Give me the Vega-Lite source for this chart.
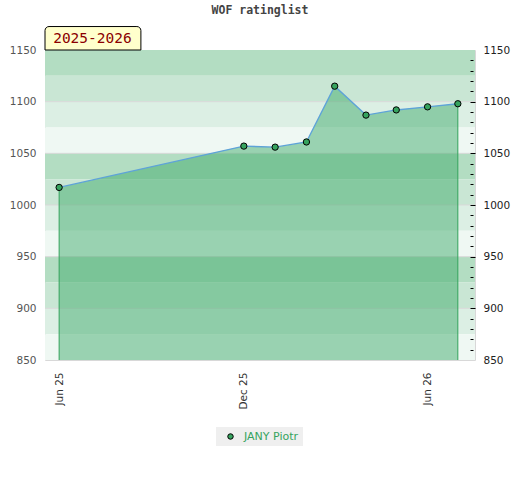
{
  "$schema": "https://vega.github.io/schema/vega-lite/v6.json",
  "width": 430,
  "height": 310,
  "autosize": {"type": "none"},
  "padding": {"left": 45, "top": 50, "right": 45, "bottom": 120},
  "background": "white",
  "title": {
    "text": "WOF ratinglist",
    "font": "DejaVu Sans Mono",
    "fontWeight": "bold",
    "fontSize": 11.5,
    "color": "#444444",
    "anchor": "middle",
    "frame": "group",
    "offset": 10
  },
  "datasets": {
    "bands": [
      {"lo": 1125, "hi": 1150, "shade": 1},
      {"lo": 1100, "hi": 1125, "shade": 2},
      {"lo": 1075, "hi": 1100, "shade": 3},
      {"lo": 1050, "hi": 1075, "shade": 4},
      {"lo": 1025, "hi": 1050, "shade": 1},
      {"lo": 1000, "hi": 1025, "shade": 2},
      {"lo": 975, "hi": 1000, "shade": 3},
      {"lo": 950, "hi": 975, "shade": 4},
      {"lo": 925, "hi": 950, "shade": 1},
      {"lo": 900, "hi": 925, "shade": 2},
      {"lo": 875, "hi": 900, "shade": 3},
      {"lo": 850, "hi": 875, "shade": 4}
    ],
    "ratings": [
      {"date": "2025-06-01", "rating": 1017, "player": "JANY Piotr"},
      {"date": "2025-12-01", "rating": 1057, "player": "JANY Piotr"},
      {"date": "2026-01-01", "rating": 1056, "player": "JANY Piotr"},
      {"date": "2026-02-01", "rating": 1061, "player": "JANY Piotr"},
      {"date": "2026-03-01", "rating": 1115, "player": "JANY Piotr"},
      {"date": "2026-04-01", "rating": 1087, "player": "JANY Piotr"},
      {"date": "2026-05-01", "rating": 1092, "player": "JANY Piotr"},
      {"date": "2026-06-01", "rating": 1095, "player": "JANY Piotr"},
      {"date": "2026-07-01", "rating": 1098, "player": "JANY Piotr"}
    ]
  },
  "layer": [
    {
      "data": {"name": "bands"},
      "mark": "rect",
      "encoding": {
        "y": {
          "field": "lo",
          "type": "quantitative",
          "scale": {"domain": [850, 1150], "zero": false, "nice": false},
          "axis": {
            "orient": "left",
            "title": null,
            "values": [850, 900, 950, 1000, 1050, 1100, 1150],
            "format": "d",
            "ticks": false,
            "domain": false,
            "grid": false,
            "labelColor": "#555555",
            "labelFontSize": 10.5,
            "labelPadding": 9
          }
        },
        "y2": {"field": "hi"},
        "color": {
          "field": "shade",
          "type": "ordinal",
          "scale": {"domain": [1, 2, 3, 4], "range": ["#b3ddc2", "#c9e6d4", "#dcefe4", "#eff8f3"]},
          "legend": null
        }
      }
    },
    {
      "data": {"name": "bands"},
      "transform": [{"filter": "datum.lo % 50 == 0 && datum.lo > 850"}],
      "mark": {"type": "rule", "color": "#d9d9d9", "strokeWidth": 1},
      "encoding": {
        "y": {"field": "lo", "type": "quantitative", "axis": null}
      }
    },
    {
      "data": {"name": "ratings"},
      "mark": {"type": "area", "color": "#3aa765", "opacity": 0.47},
      "encoding": {
        "x": {
          "field": "date",
          "type": "temporal",
          "scale": {
            "type": "utc",
            "domain": [
              {"year": 2025, "month": 5, "date": 18, "utc": true},
              {"year": 2026, "month": 7, "date": 18, "utc": true}
            ]
          },
          "axis": {
            "title": null,
            "values": [
              {"year": 2025, "month": 6, "date": 1, "utc": true},
              {"year": 2025, "month": 12, "date": 1, "utc": true},
              {"year": 2026, "month": 6, "date": 1, "utc": true}
            ],
            "labelExpr": "utcFormat(datum.value, '%b %y')",
            "labelAngle": 270,
            "labelColor": "#333333",
            "labelFontSize": 10.5,
            "labelPadding": 12,
            "labelFlush": false,
            "ticks": false,
            "domain": false,
            "grid": false
          }
        },
        "y": {"field": "rating", "type": "quantitative", "axis": null},
        "y2": {"datum": 850}
      }
    },
    {
      "data": {"name": "ratings"},
      "transform": [{"filter": "(utcyear(datum.date) == 2025 && utcmonth(datum.date) == 5) || (utcyear(datum.date) == 2026 && utcmonth(datum.date) == 6)"}],
      "mark": {"type": "rule", "color": "#33a35c", "strokeWidth": 1},
      "encoding": {
        "x": {"field": "date", "type": "temporal", "title": null},
        "y": {"field": "rating", "type": "quantitative", "axis": null},
        "y2": {"datum": 850}
      }
    },
    {
      "data": {"name": "ratings"},
      "mark": {"type": "line", "color": "#5ea3d8", "strokeWidth": 1.4},
      "encoding": {
        "x": {"field": "date", "type": "temporal", "title": null},
        "y": {"field": "rating", "type": "quantitative", "axis": null}
      }
    },
    {
      "data": {"name": "ratings"},
      "mark": {"type": "point", "shape": "circle", "filled": true, "size": 40, "stroke": "black", "strokeWidth": 1, "opacity": 1},
      "encoding": {
        "x": {"field": "date", "type": "temporal", "title": null},
        "y": {
          "field": "rating",
          "type": "quantitative",
          "axis": {
            "orient": "right",
            "title": null,
            "zindex": 1,
            "values": [850, 860, 870, 880, 890, 900, 910, 920, 930, 940, 950, 960, 970, 980, 990, 1000, 1010, 1020, 1030, 1040, 1050, 1060, 1070, 1080, 1090, 1100, 1110, 1120, 1130, 1140, 1150],
            "labelExpr": "datum.value % 50 == 0 ? format(datum.value, 'd') : ''",
            "tickSize": {"condition": {"test": "datum.value % 50 == 0", "value": 5}, "value": 3},
            "tickOpacity": {"condition": {"test": "datum.value == 850 || datum.value == 1150", "value": 0}, "value": 1},
            "tickColor": "black",
            "offset": -5,
            "labelPadding": 8,
            "labelColor": "#222222",
            "labelFontSize": 10.5,
            "labelOverlap": false,
            "domain": false,
            "grid": false
          }
        },
        "color": {
          "field": "player",
          "type": "nominal",
          "scale": {"range": ["#36a35e"]},
          "legend": {
            "title": null,
            "orient": "none",
            "legendX": 171,
            "legendY": 377,
            "direction": "horizontal",
            "fillColor": "#efefef",
            "padding": 4,
            "symbolType": "circle",
            "symbolSize": 30,
            "symbolStrokeColor": "black",
            "symbolStrokeWidth": 1,
            "symbolOffset": 5,
            "labelColor": "#36a35e",
            "labelFontSize": 11,
            "labelOffset": 8
          }
        }
      }
    },
    {
      "data": {"values": [{}]},
      "mark": {"type": "rect", "fill": "#ffffcc", "stroke": "black", "strokeWidth": 1, "cornerRadiusTopLeft": 4, "cornerRadiusTopRight": 4},
      "encoding": {
        "x": {"datum": {"year": 2025, "month": 5, "date": 18, "utc": true}, "type": "temporal"},
        "x2": {"datum": {"year": 2025, "month": 8, "date": 21, "utc": true}},
        "y": {"datum": 1150, "type": "quantitative", "axis": null},
        "y2": {"datum": 1172.7}
      }
    },
    {
      "data": {"values": [{}]},
      "mark": {"type": "text", "text": "2025-2026", "font": "DejaVu Sans Mono", "fontSize": 14.5, "color": "#8b0000", "align": "center", "baseline": "middle"},
      "encoding": {
        "x": {"datum": {"year": 2025, "month": 7, "date": 4, "utc": true}, "type": "temporal"},
        "y": {"datum": 1161, "type": "quantitative", "axis": null}
      }
    }
  ],
  "resolve": {"scale": {"color": "independent"}, "axis": {"y": "independent"}},
  "config": {
    "font": "DejaVu Sans",
    "view": {"stroke": "#d8d8d8"}
  }
}
